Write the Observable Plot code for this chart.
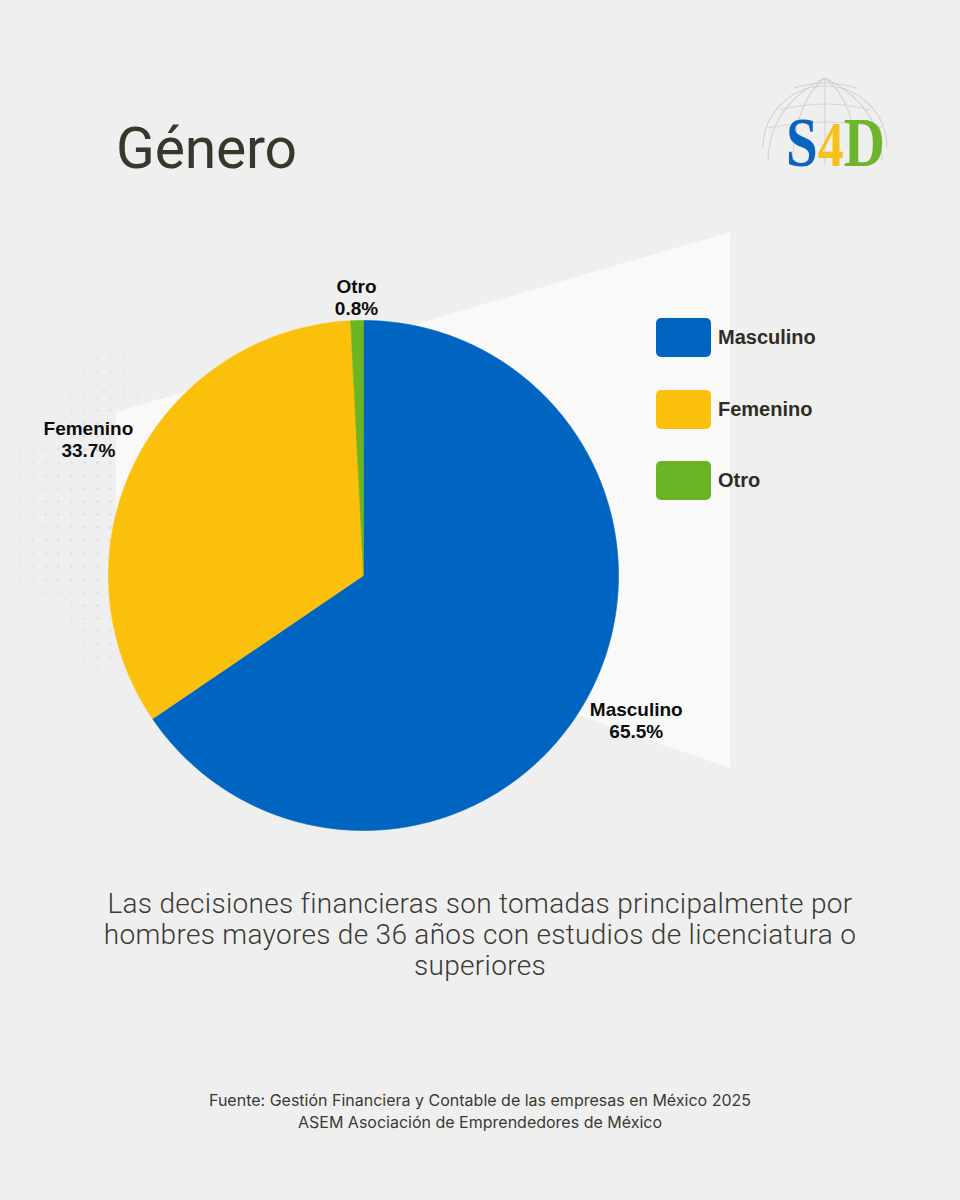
<!DOCTYPE html>
<html lang="es">
<head>
<meta charset="utf-8">
<script src="https://cdn.jsdelivr.net/npm/d3@7"></script>
<script src="https://cdn.jsdelivr.net/npm/@observablehq/plot@0.6"></script>
<style>
  html, body { margin: 0; padding: 0; background: #f0f0f0; }
  #page { position: relative; width: 960px; height: 1200px; overflow: hidden; background: #f0efef; font-family: "Liberation Sans", Arial, sans-serif; }
  #dots { position: absolute; left: 0; top: 300px; width: 240px; height: 430px;
    background-image: radial-gradient(circle, #e2e2e2 1.2px, transparent 1.7px);
    background-size: 13px 13px;
    -webkit-mask-image: radial-gradient(ellipse at 45% 50%, #000 25%, transparent 70%);
            mask-image: radial-gradient(ellipse at 45% 50%, #000 25%, transparent 70%); }
  #panel { position: absolute; left: 0; top: 0; width: 960px; height: 1200px; background: #f9f9f9;
    clip-path: polygon(116px 412px, 730px 232px, 730px 768px, 116px 553px); }
  #title { position: absolute; left: 116px; top: 120px; font-family: Roboto, sans-serif; font-weight: 400;
    font-size: 57px; line-height: 57px; color: #37372c; letter-spacing: -0.2px; }
  #logo { position: absolute; left: 750px; top: 70px; }
  #chart { position: absolute; left: 0; top: 220px; }
  #legend { position: absolute; left: 656px; top: 318px; }
  .item { display: flex; align-items: center; height: 39px; margin-bottom: 32.5px; }
  .sw { width: 55px; height: 39px; border-radius: 5px; margin-right: 7px; }
  .lab { font-family: "Liberation Sans", Arial, sans-serif; font-weight: 700; font-size: 20px; color: #2e2e24; }
  #note { position: absolute; left: 0; width: 960px; top: 888px; text-align: center; font-family: Roboto, sans-serif;
    font-weight: 300; font-size: 28px; line-height: 31px; color: #3a3a33; letter-spacing: 0.3px; }
  #source { position: absolute; left: 0; width: 960px; top: 1089px; text-align: center; font-family: Inter, sans-serif;
    font-weight: 400; font-size: 16px; line-height: 22px; color: #3a3a33; }
</style>
</head>
<body>
<div id="page">
  <div id="dots"></div>
  <div id="panel"></div>
  <div id="title">Género</div>
  <svg id="logo" width="150" height="110" viewBox="0 0 150 110">
    <g fill="none" stroke="#d2d2d2" stroke-width="1.1">
      <!-- globe wireframe (upper half) -->
      <path d="M13,78 A62,62 0 0 1 137,78" />
      <path d="M30,40 Q75,28 120,40" />
      <path d="M18,58 Q75,46 132,58" />
      <path d="M44,18 Q75,8 106,18" />
      <path d="M75,8 L75,95" />
      <path d="M75,8 Q45,30 42,95" />
      <path d="M75,8 Q105,30 108,95" />
      <path d="M75,8 Q20,35 18,90" />
      <path d="M75,8 Q130,35 132,90" />
    </g>
    <g transform="translate(36,96) scale(1,1.22)">
      <text x="0" y="0" font-family="'Liberation Serif', 'DejaVu Serif', serif" font-weight="700" font-size="57"><tspan fill="#0b63c0">S</tspan><tspan fill="#f6c21a" font-size="52">4</tspan><tspan fill="#6cb52c">D</tspan></text>
    </g>
  </svg>
  <div id="chart"></div>
  <div id="legend"></div>
  <div id="note">Las decisiones financieras son tomadas principalmente por<br>hombres mayores de 36 años con estudios de licenciatura o<br>superiores</div>
  <div id="source">Fuente: Gestión Financiera y Contable de las empresas en México 2025<br>ASEM Asociación de Emprendedores de México</div>
</div>
<script>
// Gender split of financial decision makers (percent)
const categories = ["Masculino", "Femenino", "Otro"];
const shares = [65.5, 33.7, 0.8];
const colors = ["#0064c1", "#fac00c", "#6bb424"];

const total = d3.sum(shares);
const TAU = 2 * Math.PI;

// Build each slice as a closed polygon in unit-circle coordinates,
// starting at 12 o'clock and running clockwise.
const slicePoints = [];
const labels = [];
let start = 0;
categories.forEach((name, i) => {
  const a0 = start / total * TAU;
  const a1 = (start + shares[i]) / total * TAU;
  const steps = Math.max(2, Math.ceil((a1 - a0) / (Math.PI / 360)));
  slicePoints.push({name, x: 0, y: 0});
  for (let k = 0; k <= steps; k++) {
    const a = a0 + (a1 - a0) * k / steps;
    slicePoints.push({name, x: Math.sin(a), y: Math.cos(a)});
  }
  slicePoints.push({name, x: 0, y: 0});
  labels.push({name, value: shares[i], mid: (a0 + a1) / 2});
  start += shares[i];
});

// Outside labels: push each two-line label just clear of the rim,
// accounting for the size of its text block.
const R = 255;              // pie radius in pixels
const labelFont = "bold 19px 'Liberation Sans'";
const ctx = document.createElement("canvas").getContext("2d");
ctx.font = labelFont;
labels.forEach(d => {
  d.text = `${d.name}\n${d.value.toFixed(1)}%`;
  const halfW = Math.max(ctx.measureText(d.name).width, ctx.measureText(d.value.toFixed(1) + "%").width) / 2;
  const halfH = 20.5;
  const ux = Math.sin(d.mid), uy = Math.cos(d.mid);
  const r = (R + 3 + halfW * Math.abs(ux) + halfH * Math.abs(uy)) / R;
  d.x = r * ux;
  d.y = r * uy;
});

const cx = 363, cy = 355;  // pie centre inside the svg
const chart = Plot.plot({
  width: 960,
  height: 640,
  style: {background: "transparent", overflow: "visible"},
  x: {domain: [-1, 1], range: [cx - R, cx + R], axis: null},
  y: {domain: [-1, 1], range: [cy + R, cy - R], axis: null},
  color: {domain: categories, range: colors},
  marks: [
    Plot.line(slicePoints, {x: "x", y: "y", z: "name", fill: "name", stroke: "name", strokeWidth: 0.6, curve: "linear"}),
    Plot.text(labels, {x: "x", y: "y", text: "text", fill: "#0d0d0d", fontSize: 19, fontWeight: 700,
      fontFamily: "'Liberation Sans', Arial, sans-serif", lineHeight: 1.16, textAnchor: "middle"})
  ]
});
document.getElementById("chart").append(chart);

// Legend
const legend = document.getElementById("legend");
categories.forEach((name, i) => {
  const item = document.createElement("div");
  item.className = "item";
  const sw = document.createElement("div");
  sw.className = "sw";
  sw.style.background = colors[i];
  const lab = document.createElement("div");
  lab.className = "lab";
  lab.textContent = name;
  item.append(sw, lab);
  legend.append(item);
});
</script>
</body>
</html>
